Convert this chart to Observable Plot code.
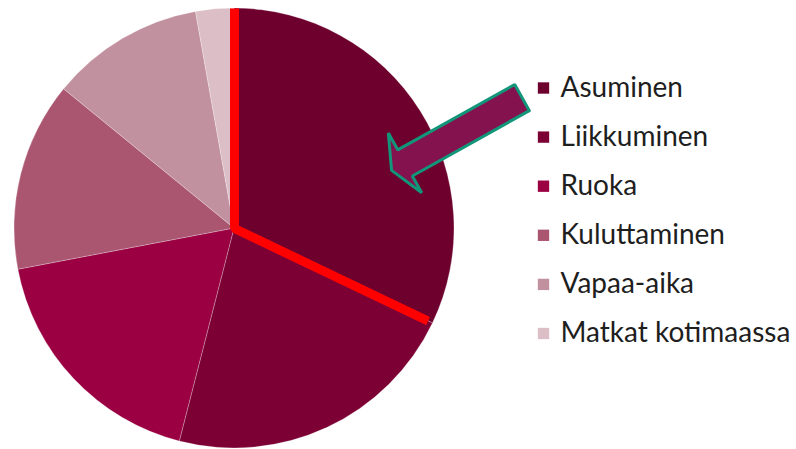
<!DOCTYPE html>
<html><head><meta charset="utf-8">
<script src="https://cdn.jsdelivr.net/npm/d3@7"></script>
<script src="https://cdn.jsdelivr.net/npm/@observablehq/plot@0.6"></script>
<style>body{margin:0;background:#fff;overflow:hidden}</style>
</head><body><div id="chart"></div>
<script>
// ---- data ----
const categories = ["Asuminen", "Liikkuminen", "Ruoka", "Kuluttaminen", "Vapaa-aika", "Matkat kotimaassa"];
const shares = [32.1, 21.9, 18.0, 13.9, 11.3, 2.8];
const colors = ["#6e002e", "#7c0034", "#9a0042", "#aa5670", "#c291a0", "#dcbec6"];
const highlighted = "Asuminen";
// annotation arrow (pie units: centre 0,0, radius 1)
const arrowNote = {tail: [1.307, 0.595], tip: [0.714, 0.264], shaft: 0.136, head: 0.311, headLength: 0.07};

// ---- layout ----
const W = 796, H = 449, CX = 234, CY = 228, R = 220;
const px2x = p => (p - CX) / R, px2y = p => (CY - p) / R;

const data = categories.map((c, i) => ({category: c, value: shares[i], i}));
const arcs = d3.pie().sort(null).value(d => d.value)(data);

// red outline of highlighted slice
const hi = arcs.find(a => a.data.category === highlighted);
const redPath = [
  {x: Math.sin(hi.startAngle), y: Math.cos(hi.startAngle)},
  {x: 0, y: 0},
  {x: Math.sin(hi.endAngle) * 0.975, y: Math.cos(hi.endAngle) * 0.975}
];

// arrow polygon
function arrowPolygon(a) {
  const dx = a.tip[0] - a.tail[0], dy = a.tip[1] - a.tail[1];
  const L = Math.hypot(dx, dy), ux = dx / L, uy = dy / L, px = -uy, py = ux;
  const bx = a.tip[0] - ux * a.headLength, by = a.tip[1] - uy * a.headLength;
  const s = a.shaft / 2, h = a.head / 2;
  const pts = [
    [a.tail[0] + px * s, a.tail[1] + py * s],
    [bx + px * s, by + py * s],
    [bx + px * h, by + py * h],
    [a.tip[0], a.tip[1]],
    [bx - px * h, by - py * h],
    [bx - px * s, by - py * s],
    [a.tail[0] - px * s, a.tail[1] - py * s]
  ];
  pts.push(pts[0]);
  return pts.map(([x, y]) => ({x, y}));
}

function pieSlices(index, scales) {
  const {x, y, color} = scales;
  const col = color || (c => colors[categories.indexOf(c)]);
  const cx = x(0), cy = y(0), r = x(1) - x(0);
  const arc = d3.arc().innerRadius(0).outerRadius(r);
  const g = d3.create("svg:g").attr("transform", `translate(${cx},${cy})`);
  g.selectAll("path").data(arcs).join("path")
    .attr("d", arc)
    .attr("fill", d => col(d.data.category))
    .attr("stroke", "#fff").attr("stroke-opacity", 0.25).attr("stroke-width", 1);
  return g.node();
}

const legendTop = 87.5, legendStep = 49.1;
const chart = Plot.plot({
  width: W, height: H,
  margin: 0,
  x: {domain: [px2x(0), px2x(W)], axis: null},
  y: {domain: [px2y(H), px2y(0)], axis: null},
  color: {domain: categories, range: colors},
  style: {background: "#fff", fontFamily: "Lato, sans-serif"},
  marks: [
    pieSlices,
    Plot.line(redPath, {x: "x", y: "y", stroke: "#ff0000", strokeWidth: 9, strokeLinejoin: "miter", strokeLinecap: "butt"}),
    Plot.line(arrowPolygon(arrowNote), {x: "x", y: "y", fill: "#84124e", stroke: "#12967a", strokeWidth: 3, strokeLinejoin: "miter"}),
    Plot.dot(data, {x: () => px2x(543), y: d => px2y(legendTop + d.i * legendStep), fill: "category", symbol: "square", r: 6.4}),
    Plot.text(data, {x: () => px2x(560), y: d => px2y(legendTop + d.i * legendStep), text: "category", textAnchor: "start", lineAnchor: "middle", fontSize: 28, fill: "#1e1e1e"})
  ]
});
document.getElementById("chart").appendChild(chart);
</script>
</body></html>
